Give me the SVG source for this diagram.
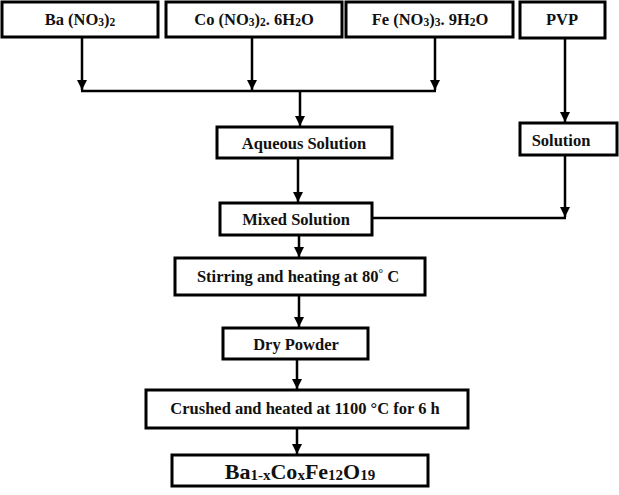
<svg xmlns="http://www.w3.org/2000/svg" width="619" height="495" viewBox="0 0 619 495">
<defs>
<marker id="ah" viewBox="0 0 10 10" refX="10" refY="5" markerWidth="4" markerHeight="4.4" markerUnits="strokeWidth" orient="auto">
<path d="M0,0 L10,5 L0,10 Z" fill="#000"/>
</marker>
<style>
.box{fill:#fff;stroke:#000;stroke-width:3}
.t{font-family:"Liberation Serif","Times New Roman",serif;font-weight:bold;font-size:16.5px;fill:#111;text-anchor:middle}
.big{font-size:22px}
.c{fill:none;stroke:#000;stroke-width:2.5}
.sub{font-size:11.5px}
.bsub{font-size:15px}
</style>
</defs>
<g id="connectors">
<path class="c" d="M82,37 V90" marker-end="url(#ah)"/>
<path class="c" d="M252,37 V90" marker-end="url(#ah)"/>
<path class="c" d="M435,37 V90" marker-end="url(#ah)"/>
<path class="c" d="M81,91 H436"/>
<path class="c" d="M300,91 V126" marker-end="url(#ah)"/>
<path class="c" d="M565,38 V122" marker-end="url(#ah)"/>
<path class="c" d="M298,158 V202" marker-end="url(#ah)"/>
<path class="c" d="M565,155 V217" marker-end="url(#ah)"/>
<path class="c" d="M372,218 H566"/>
<path class="c" d="M299,235 V257" marker-end="url(#ah)"/>
<path class="c" d="M299,295 V327" marker-end="url(#ah)"/>
<path class="c" d="M297,359 V389" marker-end="url(#ah)"/>
<path class="c" d="M297,428 V454" marker-end="url(#ah)"/>
</g>
<g id="ba">
<rect class="box" x="2" y="2" width="156" height="35"/>
<text class="t" x="80" y="25">Ba (NO<tspan class="sub" dy="1">3</tspan><tspan dy="-1">)</tspan><tspan class="sub" dy="1">2</tspan></text>
</g>
<g id="co">
<rect class="box" x="166" y="2" width="176" height="35"/>
<text class="t" x="254" y="25">Co (NO<tspan class="sub" dy="1">3</tspan><tspan dy="-1">)</tspan><tspan class="sub" dy="1">2</tspan><tspan dy="-1">. 6H</tspan><tspan class="sub" dy="1">2</tspan><tspan dy="-1">O</tspan></text>
</g>
<g id="fe">
<rect class="box" x="346" y="2" width="167" height="35"/>
<text class="t" x="430" y="25">Fe (NO<tspan class="sub" dy="1">3</tspan><tspan dy="-1">)</tspan><tspan class="sub" dy="1">3</tspan><tspan dy="-1">. 9H</tspan><tspan class="sub" dy="1">2</tspan><tspan dy="-1">O</tspan></text>
</g>
<g id="pvp">
<rect class="box" x="520" y="2" width="85" height="36"/>
<text class="t" x="562" y="25">PVP</text>
</g>
<g id="aqueous">
<rect class="box" x="217" y="127" width="175" height="31"/>
<text class="t" x="304" y="149">Aqueous Solution</text>
</g>
<g id="solution">
<rect class="box" x="520" y="123" width="97" height="32"/>
<text class="t" x="561" y="146">Solution</text>
</g>
<g id="mixed">
<rect class="box" x="220" y="203" width="152" height="32"/>
<text class="t" x="296" y="225">Mixed Solution</text>
</g>
<g id="stirring">
<rect class="box" x="175" y="258" width="250" height="37"/>
<text class="t" x="298" y="282">Stirring and heating at 80<tspan class="sub" dy="-5">°</tspan><tspan dy="5"> C</tspan></text>
</g>
<g id="dry">
<rect class="box" x="223" y="328" width="145" height="31"/>
<text class="t" x="296" y="350">Dry Powder</text>
</g>
<g id="crushed">
<rect class="box" x="146" y="390" width="322" height="38"/>
<text class="t" x="305" y="414">Crushed and heated at 1100 °C for 6 h</text>
</g>
<g id="product">
<rect class="box" x="172" y="455" width="256" height="31"/>
<text class="t big" x="300" y="479">Ba<tspan class="bsub" dy="1">1-x</tspan><tspan dy="-1">Co</tspan><tspan class="bsub" dy="1">x</tspan><tspan dy="-1">Fe</tspan><tspan class="bsub" dy="1">12</tspan><tspan dy="-1">O</tspan><tspan class="bsub" dy="1">19</tspan></text>
</g>
</svg>
